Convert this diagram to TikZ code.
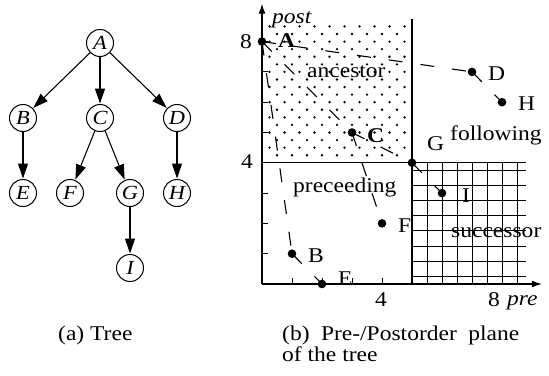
\documentclass[tikz,border=0pt]{standalone}
\usepackage{fontspec}
\setmainfont{Liberation Serif}[FakeStretch=1.12]
\usetikzlibrary{arrows.meta}
\begin{document}
\begin{tikzpicture}[x=1pt,y=-1pt,
  txt/.style={inner sep=0pt, anchor=base west, font=\fontsize{21}{21}\selectfont},
  num/.style={inner sep=0pt, font=\fontsize{21}{21}\selectfont},
  tnode/.style={circle, draw, line width=1pt, minimum size=27pt, inner sep=0pt, font=\fontsize{20}{20}\selectfont\itshape},
  tedge/.style={line width=1.1pt, -{Triangle[length=15pt,width=10pt]}, shorten >=0.5pt},
  pdot/.style={circle, fill, minimum size=8.6pt, inner sep=0pt},
  pedge/.style={line width=1.1pt, dash pattern=on 14pt off 18pt},
  axis/.style={line width=1.2pt, -{Latex[length=10pt,width=7pt]}},
  frame/.style={line width=1.2pt},
  gridline/.style={line width=1pt},
  tick/.style={line width=1pt}
]
\useasboundingbox (0,0) rectangle (549,375);

% ---------- tree ----------
\node[tnode] (A) at (100,43) {A};
\node[tnode] (B) at (23,118) {B};
\node[tnode] (C) at (100,118) {C};
\node[tnode] (D) at (177,118) {D};
\node[tnode] (E) at (23,193) {E};
\node[tnode] (F) at (70,193) {F};
\node[tnode] (G) at (130,193) {G};
\node[tnode] (H) at (177,193) {H};
\node[tnode] (I) at (130,268) {I};
\draw[tedge] (A) -- (B);
\draw[tedge] (A) -- (C);
\draw[tedge] (A) -- (D);
\draw[tedge] (B) -- (E);
\draw[tedge] (C) -- (F);
\draw[tedge] (C) -- (G);
\draw[tedge] (D) -- (H);
\draw[tedge] (G) -- (I);

% ---------- plane ----------
\begin{scope}[shift={(262pt,-284pt)}, x=30pt, y=30.3pt]
  \foreach \j in {2,4,...,18}
    \foreach \i in {0.25,0.75,...,4.8}
      \fill ({\i},{4+0.25*\j}) circle (1.3pt);
  \foreach \j in {1,3,...,17}
    \foreach \i in {0.5,1.0,...,4.6}
      \fill ({\i},{4+0.25*\j}) circle (1.3pt);
  \foreach \x in {5.5,6,...,8.6}
    \draw[gridline] (\x,0) -- (\x,4);
  \foreach \y in {0.25,0.75,...,3.8}
    \draw[gridline] (5,\y) -- (8.8,\y);
  \coordinate (V0) at (5,0);
  \coordinate (V1) at (5,8.75);
  \coordinate (H0) at (0,4);
  \coordinate (H1) at (8.8,4);
  \draw[frame] (V0) -- (V1);
  \draw[frame] (H0) -- (H1);
  \foreach \k in {1,...,8} {
    \draw[tick] (0,\k) -- (0.2,\k);
    \draw[tick] (\k,0) -- (\k,0.2);
  }
  \coordinate (O) at (0,0);
  \coordinate (Xend) at (9.33,0);
  \coordinate (Yend) at (0,9.25);
  \draw[axis] (O) -- (Xend);
  \draw[axis] (O) -- (Yend);
  \node[pdot] (pA) at (0,8) {};
  \node[pdot] (pB) at (1,1) {};
  \node[pdot] (pE) at (2,0) {};
  \node[pdot] (pC) at (3,5) {};
  \node[pdot] (pF) at (4,2) {};
  \node[pdot] (pG) at (5,4) {};
  \node[pdot] (pI) at (6,3) {};
  \node[pdot] (pD) at (7,7) {};
  \node[pdot] (pH) at (8,6) {};
  \draw[pedge] (pA.center) -- (pB.center);
  \draw[pedge] (pA.center) -- (pC.center);
  \draw[pedge] (pA.center) -- (pD.center);
  \draw[pedge] (pB.center) -- (pE.center);
  \draw[pedge] (pC.center) -- (pF.center);
  \draw[pedge] (pC.center) -- (pG.center);
  \draw[pedge] (pG.center) -- (pI.center);
  \draw[pedge] (pD.center) -- (pH.center);
\end{scope}

\node[txt] (lA) at (278,47) {\textbf{A}};
\node[txt] (lC) at (367,142) {\textbf{C}};
\node[txt] (lD) at (488,80) {D};
\node[txt] (lH) at (518,110) {H};
\node[txt] (lG) at (427,150) {G};
\node[txt] (lI) at (462,202) {I};
\node[txt] (lF) at (398,232) {F};
\node[txt] (lB) at (308,262) {B};
\node[txt] (lE) at (338,285) {E};
\node[txt] (ranc) at (307,77) {ancestor};
\node[txt] (rfol) at (450,140) {following};
\node[txt] (rpre) at (293,192) {preceeding};
\node[txt] (rsuc) at (451,237) {successor};
\node[txt] (post) at (272,23) {\itshape post};
\node[txt] (pre) at (507,305) {\itshape pre};
\node[num] (y8) at (246,42) {8};
\node[num] (y4) at (247,162) {4};
\node[num, anchor=base] (x4) at (381,306) {4};
\node[num, anchor=base] (x8) at (494,306) {8};

\node[txt] (capa) at (58,340) {(a) Tree};
\node[txt] (capb) at (282,340) {(b)\hspace{11.4pt}Pre-/Postorder\hspace{11.4pt}plane};
\node[txt] (capc) at (282,361) {of the tree};
\end{tikzpicture}
\end{document}
